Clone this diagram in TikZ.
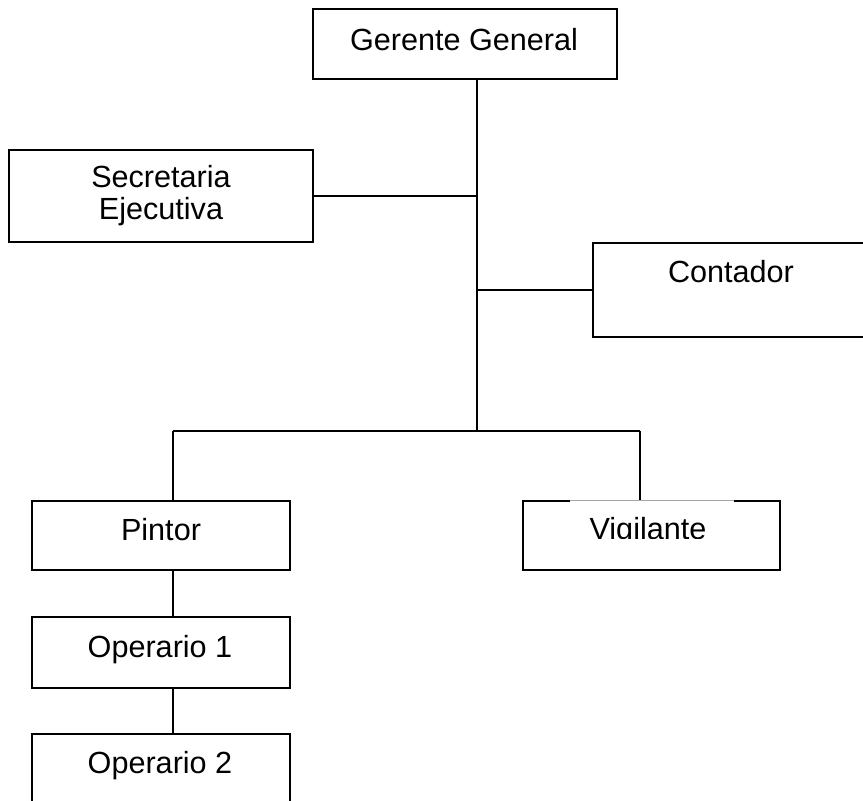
\documentclass[tikz,border=0pt]{standalone}
\usepackage{fontspec}
\setmainfont{Liberation Sans}
\begin{document}
\begin{tikzpicture}[x=1pt,y=-1pt,
  box/.style={draw=black, line width=1.8pt, rectangle, inner sep=0pt, outer sep=0pt},
  lbl/.style={inner sep=0pt, font=\fontsize{30.6}{32}\selectfont},
  conn/.style={draw=black, line width=1.6pt}]
\clip (0,0) rectangle (863,801);
\fill[white] (0,0) rectangle (863,801);
% boxes
\node[box, minimum width=304pt, minimum height=70pt, anchor=north west] (ger) at (313,9) {};
\node[box, minimum width=304pt, minimum height=92pt, anchor=north west] (sec) at (9,150) {};
\node[box, minimum width=290pt, minimum height=94pt, anchor=north west] (con) at (593,243) {};
\node[box, minimum width=258pt, minimum height=69pt, anchor=north west] (pin) at (32,501) {};
\node[box, minimum width=257pt, minimum height=69pt, anchor=north west] (vig) at (523,501) {};
\node[box, minimum width=258pt, minimum height=71pt, anchor=north west] (op1) at (32,617) {};
\node[box, minimum width=258pt, minimum height=90pt, anchor=north west] (op2) at (32,734) {};
% junctions
\coordinate (jM) at (477,431);
\coordinate (jL) at (173,431);
\coordinate (jR) at (640,431);
% connectors
\draw[conn] (ger.south -| jM) -- (jM);
\draw[conn] (sec.east) -- (sec.east -| jM);
\draw[conn] (con.west) -- (con.west -| jM);
\draw[conn] (jL) -- (jR);
\draw[conn] (jL) -- (pin.north -| jL);
\draw[conn] (jR) -- (vig.north -| jR);
\draw[conn] (pin.south -| jL) -- (op1.north -| jL);
\draw[conn] (op1.south -| jL) -- (op2.north -| jL);
% labels
\node[lbl, anchor=base] (tger) at (464,50) {Gerente General};
\node[lbl, align=center] (tsec) at (sec.center) {Secretaria\\Ejecutiva};
\node[lbl, anchor=base] (tcon) at (731,282) {Contador};
\node[lbl, anchor=base] (tpin) at (161,540) {Pintor};
\node[lbl, anchor=base] (top1) at (160,657) {Operario 1};
\node[lbl, anchor=base] (top2) at (160,773) {Operario 2};
% Vigilante label: white text area over top edge, text clipped at baseline
\fill[white] (570,499.6) rectangle (734,502.6);
\draw[gray!70, line width=0.8pt] (570,500.4) -- (734,500.4);
\begin{scope}
  \clip (560,505) rectangle (745,538.6);
  \node[lbl, anchor=base] (tvig) at (648,539) {Vigilante};
\end{scope}
\end{tikzpicture}
\end{document}
